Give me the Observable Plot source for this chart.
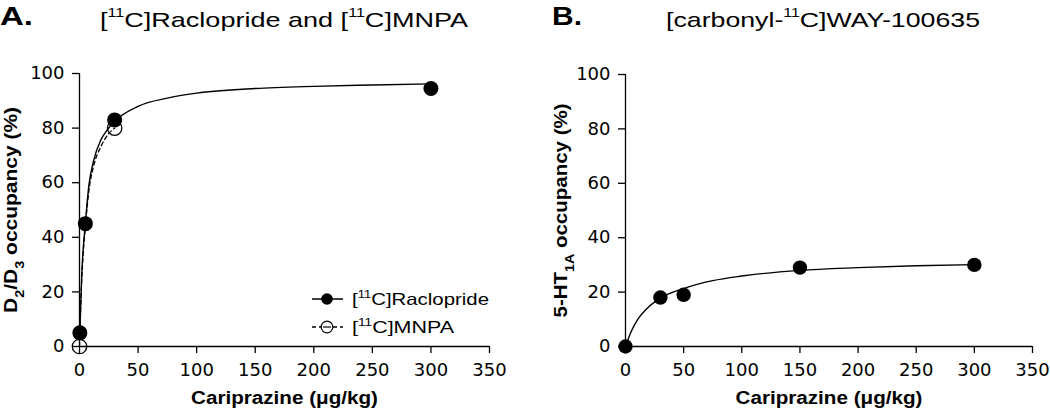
<!DOCTYPE html>
<html>
<head>
<meta charset="utf-8">
<script src="https://cdn.jsdelivr.net/npm/d3@7"></script>
<script src="https://cdn.jsdelivr.net/npm/@observablehq/plot@0.6"></script>
<style>
  html, body { margin: 0; padding: 0; background: white; }
  #wrap { position: relative; width: 1050px; height: 414px; overflow: hidden; font-family: 'Liberation Sans', Arial, sans-serif; color: black; }
  .panel { position: absolute; top: 0; z-index: 1; }
  .ttl { position: absolute; white-space: nowrap; line-height: 1; z-index: 5; display: inline-block; transform-origin: 0 0; }
  .big { font-size: 25px; font-weight: bold; }
  .sub { font-size: 21px; }
  .sup { position: relative; font-size: 12.5px; top: -10px; }
  .leg { position: absolute; left: 310px; font-size: 16.5px; white-space: nowrap; line-height: 1; z-index: 5; }
  .leg svg { position: absolute; left: 0; top: -10px; }
  .leg span.t { position: absolute; left: 42px; top: -8.5px; display: inline-block; transform-origin: 0 0; }
  .leg .sup { font-size: 10.5px; top: -7px; }
  svg [aria-label="x-axis tick label"], svg [aria-label="y-axis tick label"] { font-size: 18px !important; font-family: 'DejaVu Sans', sans-serif !important; }
  svg [aria-label="x-axis label"], svg [aria-label="y-axis label"] { font-weight: bold; font-size: 18px !important; font-family: 'Liberation Sans', Arial, sans-serif !important; }
</style>
</head>
<body>
<div id="wrap">
  <div id="pA" class="panel" style="left:0px;"></div>
  <div id="pB" class="panel" style="left:525px;"></div>
  <div class="ttl big" data-w="33" style="left:0px; top:4px;">A.</div>
  <div class="ttl sub" data-w="368" style="left:100px; top:9px;">[<span class="sup">11</span>C]Raclopride and [<span class="sup">11</span>C]MNPA</div>
  <div class="ttl big" data-w="30" style="left:552px; top:4px;">B.</div>
  <div class="ttl sub" data-w="314" style="left:666px; top:9px;">[carbonyl-<span class="sup">11</span>C]WAY-100635</div>
  <div class="leg" style="top:299px;">
    <svg width="40" height="20"><line x1="2" x2="33" y1="10" y2="10" stroke="black" stroke-width="1.5"/><circle cx="17" cy="10" r="5.8" fill="black"/></svg>
    <span class="t" data-w="137">[<span class="sup">11</span>C]Raclopride</span>
  </div>
  <div class="leg" style="top:327px;">
    <svg width="40" height="20"><line x1="2" x2="33" y1="10" y2="10" stroke="black" stroke-width="1.3" stroke-dasharray="4,3"/><circle cx="17" cy="10" r="5.8" fill="white" stroke="black" stroke-width="1.2"/><line x1="13" x2="21" y1="10" y2="10" stroke="black" stroke-width="1.2"/></svg>
    <span class="t" data-w="102">[<span class="sup">11</span>C]MNPA</span>
  </div>
</div>
<script>
// ---- data ----
const xTicks = [0, 50, 100, 150, 200, 250, 300, 350];
const yTicks = [0, 20, 40, 60, 80, 100];

// Panel A: [11C]Raclopride (filled) and [11C]MNPA (open)
const racDose = [0.3, 5, 30, 300];
const racOcc = [5, 45, 83, 94.5];
const mnpaDose = [0, 30];
const mnpaOcc = [0, 80];
// fitted curves
const racFitDose = [0.3, 2, 5, 8, 12, 18, 24, 30, 50, 75, 100, 150, 200, 250, 300];
const racFitOcc = [5, 27, 45, 59, 68, 75.5, 79.5, 82.5, 88, 91, 92.8, 94.5, 95.3, 95.8, 96.2];
const mnpaFitDose = [0, 1, 3, 5, 8, 12, 18, 24, 30];
const mnpaFitOcc = [0, 15, 33, 44, 57, 66, 73, 77.5, 80];

// Panel B: [carbonyl-11C]WAY-100635
const wayDose = [0, 30, 50, 150, 300];
const wayOcc = [0, 18, 19, 29, 30];
const wayFitDose = [0, 5, 10, 20, 30, 50, 75, 100, 150, 200, 250, 300];
const wayFitOcc = [0, 5.6, 9.6, 14.6, 17.8, 21.3, 24.2, 25.9, 28.0, 29.0, 29.7, 30.1];

const idx = a => d3.range(a.length);
const tickFont = "'DejaVu Sans', sans-serif";

function panel(opts) {
  return Plot.plot({
    width: 525,
    height: 414,
    marginLeft: opts.ml,
    marginRight: opts.mr,
    marginTop: opts.mt,
    marginBottom: 68,
    x: {domain: [0, 350]},
    y: {domain: [0, 100]},
    style: {fontFamily: tickFont, fontSize: "18px", color: "black", background: "white", overflow: "visible"},
    marks: [
      Plot.axisX({ticks: xTicks, tickSize: 7, tickPadding: 10, strokeWidth: 1.3, fontSize: 18, tickFormat: d => String(d),
        label: "Cariprazine (μg/kg)", labelAnchor: "center", labelOffset: 57, labelArrow: "none"}),
      Plot.axisY({ticks: yTicks, tickSize: 7, tickPadding: 8, strokeWidth: 1.3, fontSize: 18, tickFormat: d => String(d),
        label: opts.ylabel, labelAnchor: "center", labelOffset: opts.lo, labelArrow: "none"}),
      Plot.ruleY([0], {stroke: "black", strokeWidth: 1.3}),
      Plot.ruleX([0], {stroke: "black", strokeWidth: 1.3}),
      ...opts.marks
    ]
  });
}

const A = panel({
  ml: 79, mr: 36, mt: 73, lo: 75, ylabel: "D2/D3 occupancy (%)",
  marks: [
    Plot.line(idx(mnpaFitDose), {x: i => mnpaFitDose[i], y: i => mnpaFitOcc[i], curve: "monotone-x", stroke: "black", strokeWidth: 1.3, strokeDasharray: "4,3"}),
    Plot.line(idx(racFitDose), {x: i => racFitDose[i], y: i => racFitOcc[i], curve: "monotone-x", stroke: "black", strokeWidth: 1.4}),
    Plot.dot(idx(racDose), {x: i => racDose[i], y: i => racOcc[i], r: 7.5, fill: "black"}),
    Plot.dot(idx(mnpaDose), {x: i => mnpaDose[i], y: i => mnpaOcc[i], r: 7.2, fill: "none", stroke: "black", strokeWidth: 1.3})
  ]
});
const B = panel({
  ml: 100, mr: 18, mt: 74, lo: 71, ylabel: "5-HT1A occupancy (%)",
  marks: [
    Plot.line(idx(wayFitDose), {x: i => wayFitDose[i], y: i => wayFitOcc[i], curve: "monotone-x", stroke: "black", strokeWidth: 1.4}),
    Plot.dot(idx(wayDose), {x: i => wayDose[i], y: i => wayOcc[i], r: 7.2, fill: "black"})
  ]
});
document.getElementById("pA").appendChild(A);
document.getElementById("pB").appendChild(B);

// subscripts in y-axis labels, and widen the labels to the reference's proportions
function subLabel(svg, parts, len) {
  const t = d3.select(svg).select('[aria-label="y-axis label"] text');
  t.text(null);
  for (const [s, isSub] of parts) {
    const ts = t.append("tspan").text(s);
    if (isSub) ts.attr("baseline-shift", "sub").attr("font-size", "12.5px");
  }
  t.attr("textLength", len).attr("lengthAdjust", "spacingAndGlyphs");
}
subLabel(A, [["D", false], ["2", true], ["/D", false], ["3", true], [" occupancy (%)", false]], 206);
subLabel(B, [["5-HT", false], ["1A", true], [" occupancy (%)", false]], 214);
for (const svg of [A, B]) {
  d3.select(svg).select('[aria-label="x-axis label"] text')
    .attr("textLength", 187).attr("lengthAdjust", "spacingAndGlyphs");
}
// widen HTML titles/legend text horizontally to the reference widths
document.querySelectorAll("[data-w]").forEach(el => {
  const w = el.getBoundingClientRect().width;
  el.style.transform = `scaleX(${(+el.dataset.w) / w})`;
});
</script>
</body>
</html>
